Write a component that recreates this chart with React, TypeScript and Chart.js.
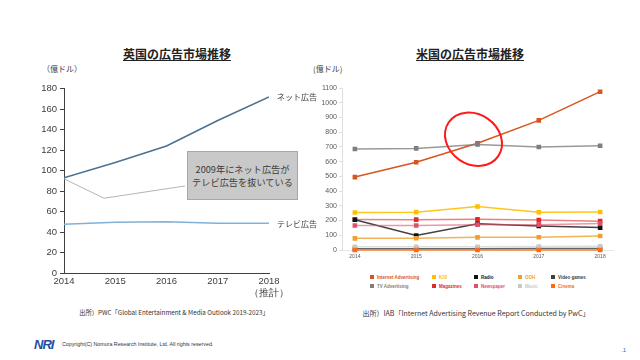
import React, { useEffect, useRef } from "react";
import { Chart, registerables } from "chart.js";
Chart.register(...registerables);

// ---------- UK chart data ----------
const ukYears = [2014, 2015, 2016, 2017, 2018];
const ukNet = [93, 108, 124, 149, 172];
const ukTv = [47.5, 49.5, 50, 48.5, 48.5];
const calloutX = [2014, 2014.78, 2016.36];
const calloutY = [92, 73, 85];

// ---------- US chart data ----------
const usYears = [2014, 2015, 2016, 2017, 2018];
const usInternet = [495, 596, 725, 880, 1075];
const usTv = [686, 690, 716, 699, 708];
const usK20 = [255, 257, 295, 256, 258];
const usRadio = [205, 98, 178, 163, 152];
const usMagazines = [207, 206, 208, 203, 196];
const usNewspaper = [166, 166, 172, 172, 180];
const usOoh = [79, 80, 86, 87, 95];
const usVideoGames = [8, 8, 9, 10, 10];
const usMusic = [22, 22, 22, 23, 25];
const usCinema = [0, 0, 0, 0, 0];

const usNames = [
  "Internet Advertising", "K20", "Radio", "OOH", "Video games",
  "TV Advertising", "Magazines", "Newspaper", "Music", "Cinema",
];
const usValues = [
  usInternet, usK20, usRadio, usOoh, usVideoGames,
  usTv, usMagazines, usNewspaper, usMusic, usCinema,
];
const usColors = [
  "#d9541e", "#ffc000", "#111111", "#f0a030", "#404040",
  "#7f7f7f", "#e02a2a", "#e0506e", "#c8c8c8", "#ff6a10",
];
const usLineAlpha = ["ff", "e6", "cc", "cc", "cc", "cc", "99", "99", "99", "cc"];

const JP = '"Noto Sans CJK JP", "Noto Sans", sans-serif';
const NUM = '"Liberation Sans", Arial, sans-serif';

function T(props: { x: number; y: number; size: number; children: any; align?: "center" | "left"; style?: any }) {
  const { x, y, size, children, align = "left", style = {} } = props;
  return (
    <div
      style={{
        position: "absolute",
        left: x,
        top: y,
        fontSize: size,
        lineHeight: 1,
        whiteSpace: "nowrap",
        transform: align === "center" ? "translate(-50%,-50%)" : "translate(0,-50%)",
        fontFamily: JP,
        color: "#333",
        ...style,
      }}
    >
      {children}
    </div>
  );
}

function UkChart() {
  const ref = useRef<HTMLCanvasElement>(null);
  useEffect(() => {
    const chart = new Chart(ref.current!, {
      type: "line",
      data: {
        datasets: [
          {
            data: calloutX.map((x, i) => ({ x, y: calloutY[i] })),
            borderColor: "#b4b4b4",
            borderWidth: 1,
            pointRadius: 0,
          },
          {
            data: ukYears.map((x, i) => ({ x, y: ukTv[i] })),
            borderColor: "#80b2d8",
            borderWidth: 1.5,
            pointRadius: 0,
          },
          {
            data: ukYears.map((x, i) => ({ x, y: ukNet[i] })),
            borderColor: "#4c7191",
            borderWidth: 1.6,
            pointRadius: 0,
          },
        ],
      },
      options: {
        responsive: false,
        animation: false,
        layout: { padding: { top: 8, right: 31, left: 0, bottom: 0 } },
        plugins: { legend: { display: false }, tooltip: { enabled: false } },
        scales: {
          x: {
            type: "linear",
            min: 2014,
            max: 2018,
            afterBuildTicks: (s: any) => {
              s.ticks = ukYears.map((v) => ({ value: v }));
            },
            afterFit: (s: any) => {
              s.height = 29;
            },
            ticks: {
              autoSkip: false,
              maxRotation: 0,
              padding: 3,
              color: "#404040",
              font: { family: NUM, size: 9.5 },
              callback: (v: any) => (v === 2018 ? ["2018", "（推計）"] : String(v)),
            },
            grid: { drawOnChartArea: false, drawTicks: false },
            border: { color: "#404040", width: 1 },
          },
          y: {
            min: 0,
            max: 180,
            afterFit: (s: any) => {
              s.width = 64;
            },
            ticks: {
              stepSize: 20,
              padding: 3,
              color: "#404040",
              font: { family: NUM, size: 9.5 },
            },
            grid: { drawOnChartArea: false, tickLength: 4, color: "#404040" },
            border: { color: "#404040", width: 1 },
          },
        },
      },
    } as any);
    return () => chart.destroy();
  }, []);
  return <canvas ref={ref} width={300} height={222} style={{ position: "absolute", left: 0, top: 80 }} />;
}

const ellipsePlugin = {
  id: "ellipse",
  afterDatasetsDraw(chart: any) {
    const { ctx, scales } = chart;
    const cx = scales.x.getPixelForValue(usYears[2]) - 4;
    const cy = scales.y.getPixelForValue(usInternet[2]) - 4;
    ctx.save();
    ctx.beginPath();
    ctx.ellipse(cx, cy, 30, 25, 0.6, 0, Math.PI * 2);
    ctx.strokeStyle = "#ff1a1a";
    ctx.lineWidth = 2;
    ctx.stroke();
    ctx.restore();
  },
};

function UsChart() {
  const ref = useRef<HTMLCanvasElement>(null);
  useEffect(() => {
    const order = [9, 8, 4, 3, 7, 2, 6, 1, 5, 0];
    const chart = new Chart(ref.current!, {
      type: "line",
      data: {
        datasets: order.map((k) => ({
          label: usNames[k],
          data: usYears.map((x, i) => ({ x, y: usValues[k][i] })),
          borderColor: usColors[k] + usLineAlpha[k],
          backgroundColor: usColors[k],
          pointBackgroundColor: usColors[k],
          pointBorderColor: usColors[k],
          pointStyle: "rect",
          pointRadius: 2.2,
          borderWidth: 1.5,
          clip: false,
        })),
      },
      options: {
        responsive: false,
        animation: false,
        layout: { padding: { top: 8, right: 27, left: 0, bottom: 0 } },
        plugins: { legend: { display: false }, tooltip: { enabled: false } },
        scales: {
          x: {
            type: "linear",
            min: 2013.79,
            max: 2018.21,
            afterBuildTicks: (s: any) => {
              s.ticks = usYears.map((v) => ({ value: v }));
            },
            afterFit: (s: any) => {
              s.height = 15;
            },
            ticks: {
              autoSkip: false,
              maxRotation: 0,
              padding: 4,
              color: "#595959",
              font: { family: NUM, size: 5 },
              callback: (v: any) => String(v),
            },
            grid: { drawOnChartArea: false, drawTicks: false },
            border: { color: "#e6e6e6", width: 1 },
          },
          y: {
            min: 0,
            max: 1100,
            afterFit: (s: any) => {
              s.width = 42;
            },
            ticks: {
              stepSize: 100,
              padding: 2,
              color: "#595959",
              font: { family: NUM, size: 7 },
              callback: (v: any) => String(v),
            },
            grid: { drawOnChartArea: false, tickLength: 3, color: "#e0e0e0" },
            border: { color: "#e0e0e0", width: 1 },
          },
        },
      },
      plugins: [ellipsePlugin],
    } as any);
    return () => chart.destroy();
  }, []);
  return <canvas ref={ref} width={340} height={185} style={{ position: "absolute", left: 300, top: 80 }} />;
}

const legendCols = [370, 432, 474, 518, 551];
const legendRows = [277, 286];

export default function App() {
  return (
    <div
      style={{
        position: "fixed",
        left: 0,
        top: 0,
        width: 640,
        height: 360,
        background: "#fff",
        overflow: "hidden",
      }}
    >
      <UkChart />
      <UsChart />

      {/* titles */}
      <T x={177} y={54} size={12} align="center" style={{ fontWeight: 700, textDecoration: "underline", color: "#222" }}>
        英国の広告市場推移
      </T>
      <T x={470} y={54} size={12} align="center" style={{ fontWeight: 700, textDecoration: "underline", color: "#222" }}>
        米国の広告市場推移
      </T>

      {/* units */}
      <T x={42} y={69} size={8} style={{ color: "#404040" }}>（億ドル）</T>
      <T x={313} y={69} size={8} style={{ color: "#404040" }}>(億ドル)</T>

      {/* series labels UK */}
      <T x={277} y={97} size={8} style={{ color: "#404040" }}>ネット広告</T>
      <T x={277} y={224} size={8} style={{ color: "#404040" }}>テレビ広告</T>

      {/* callout box */}
      <div
        style={{
          position: "absolute",
          left: 187,
          top: 151,
          width: 109,
          height: 47,
          background: "#c9c9c9",
          border: "1px solid #a8a8a8",
          display: "flex",
          flexDirection: "column",
          justifyContent: "center",
          alignItems: "center",
          fontFamily: JP,
          fontSize: 9.2,
          lineHeight: "13px",
          color: "#3a3a3a",
          whiteSpace: "nowrap",
        }}
      >
        <div>2009年にネット広告が</div>
        <div>テレビ広告を抜いている</div>
      </div>

      {/* US legend */}
      {usNames.map((n, k) => {
        const col = k % 5;
        const row = Math.floor(k / 5);
        return (
          <div
            key={n}
            style={{
              position: "absolute",
              left: legendCols[col],
              top: legendRows[row] - 3,
              height: 6,
              display: "flex",
              alignItems: "center",
              fontFamily: NUM,
              fontSize: 4.5,
              fontWeight: 700,
              color: usColors[k],
              whiteSpace: "nowrap",
            }}
          >
            <span style={{ display: "inline-block", width: 4, height: 4, background: usColors[k], marginRight: 3 }} />
            {n}
          </div>
        );
      })}

      {/* sources */}
      <T x={174} y={313} size={6.3} align="center" style={{ color: "#333" }}>
        出所）PWC「Global Entertainment &amp; Media Outlook 2019-2023」
      </T>
      <T x={476} y={313} size={7} align="center" style={{ color: "#333" }}>
        出所）IAB「Internet Advertising Revenue Report Conducted by PwC」
      </T>

      {/* footer */}
      <T x={34} y={344} size={13} style={{ fontFamily: NUM, fontWeight: 900, fontStyle: "italic", color: "#1f4ea0", letterSpacing: -1 }}>
        NRI
      </T>
      <T x={62} y={345} size={5.3} style={{ fontFamily: NUM, color: "#333" }}>
        Copyright(C) Nomura Research Institute, Ltd. All rights reserved.
      </T>
      <T x={621} y={350} size={6} style={{ fontFamily: NUM, color: "#2e75b6" }}>
        .1
      </T>
    </div>
  );
}
